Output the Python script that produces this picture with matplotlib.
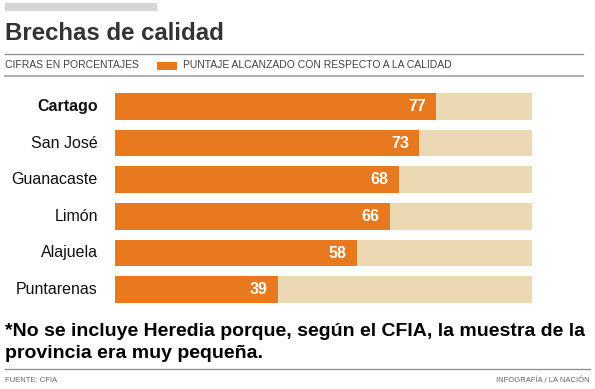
import matplotlib
matplotlib.use('Agg')
import matplotlib.pyplot as plt
from matplotlib.lines import Line2D

# 데이터
provincias = ['Cartago', 'San José', 'Guanacaste', 'Limón', 'Alajuela', 'Puntarenas']
puntajes = [77, 73, 68, 66, 58, 39]
total = [100, 100, 100, 100, 100, 100]

NARANJA = '#E8791F'
BEIGE = '#EDD8B4'
W, H = 595, 389

plt.rcParams['font.family'] = ['Liberation Sans', 'DejaVu Sans']

fig = plt.figure(figsize=(W / 100, H / 100), dpi=100)
fig.patch.set_facecolor('white')


def px(x, y):
    """pixel -> figure coords"""
    return x / W, 1 - y / H


def hline(y, x0, x1, color='#888888', lw=1.0):
    fig.add_artist(Line2D([x0 / W, x1 / W], [1 - y / H, 1 - y / H],
                          color=color, linewidth=lw, transform=fig.transFigure))


# 상단 회색 바
fig.add_artist(plt.Rectangle(px(5, 11), 152 / W, 8 / H, color='#D6D6D6',
                             transform=fig.transFigure, linewidth=0))

# 제목
fig.text(*px(5, 33), 'Brechas de calidad', fontsize=17.3, fontweight='heavy',
         color='#333333', va='center', ha='left')

hline(54, 5, 583, color='#8a8a8a', lw=0.9)
hline(76, 5, 583, color='#b0b0b0', lw=1.4)

# 범례 줄
fig.text(*px(5, 65.5), 'CIFRAS EN PORCENTAJES', fontsize=7.5, color='#444444',
         va='center', ha='left')
fig.add_artist(plt.Rectangle(px(157, 69.5), 20 / W, 8 / H, color=NARANJA,
                             transform=fig.transFigure, linewidth=0))
fig.text(*px(183, 65.5), 'PUNTAJE ALCANZADO CON RESPECTO A LA CALIDAD',
         fontsize=7.5, color='#444444', va='center', ha='left')

# 막대 차트
ax = fig.add_axes([115 / W, 1 - 308 / H, 417 / W, 220 / H])
ys = list(range(len(provincias)))
ax.barh(ys, total, height=0.72, color=BEIGE, linewidth=0)
ax.barh(ys, puntajes, height=0.72, color=NARANJA, linewidth=0)
ax.set_xlim(0, 100)
ax.set_ylim(len(provincias) - 0.5, -0.5)
ax.axis('off')

for i, (nombre, valor) in enumerate(zip(provincias, puntajes)):
    ax.text(-4.1, i, nombre, ha='right', va='center', fontsize=11.5,
            fontweight='bold' if i == 0 else 'normal', color='#111111')
    ax.text(valor - 2.5, i, str(valor), ha='right', va='center', fontsize=11.5,
            fontweight='bold', color='white')

# 각주
nota = ['*No se incluye Heredia porque, según el CFIA, la muestra de la',
        'provincia era muy pequeña.']
fig.text(*px(5, 331), nota[0], fontsize=14, fontweight='bold',
         color='black', va='center', ha='left')
fig.text(*px(5, 354), nota[1], fontsize=14, fontweight='bold',
         color='black', va='center', ha='left')

hline(369, 5, 590, color='#8a8a8a', lw=0.9)
fig.text(*px(5, 380), 'FUENTE: CFIA', fontsize=5.5, color='#666666',
         va='center', ha='left')
fig.text(*px(590, 380), 'INFOGRAFÍA / LA NACIÓN', fontsize=5.5, color='#666666',
         va='center', ha='right')

fig.savefig('out.png', dpi=100)
